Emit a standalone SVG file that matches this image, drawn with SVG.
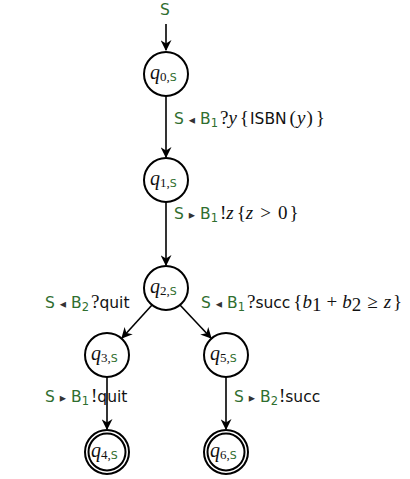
<svg xmlns="http://www.w3.org/2000/svg" width="410" height="479" viewBox="0 0 410 479">
<defs>
<marker id="ah" viewBox="0 0 10 10" refX="9" refY="5" markerWidth="11" markerHeight="11" markerUnits="userSpaceOnUse" orient="auto">
<path d="M0,0 L10,5 L0,10 L3,5 z" fill="#000"/>
</marker>
<style>
.st{fill:#fff;stroke:#000;stroke-width:2}
.e{fill:none;stroke:#000;stroke-width:1.6;marker-end:url(#ah)}
text{font-family:"DejaVu Sans","Liberation Sans",sans-serif;font-size:15.5px;fill:#111}
.g{fill:#2f6e2f}
.m{font-family:"Liberation Serif","DejaVu Serif",serif;font-style:italic;font-size:19px}
.r{font-family:"Liberation Serif","DejaVu Serif",serif;font-size:19px}
.t{font-size:12.5px;fill:#333}
.q{font-family:"Liberation Serif","DejaVu Serif",serif;font-style:italic;font-size:20px}
.qs{font-family:"Liberation Serif","DejaVu Serif",serif;font-size:13px}
.qg{font-size:11px;fill:#2f6e2f}
.sb{font-size:11.5px}
</style>
</defs>
<g id="edges">
<line class="e" x1="166" y1="24" x2="166" y2="50"/>
<line class="e" x1="166" y1="96" x2="166" y2="157"/>
<line class="e" x1="166" y1="202" x2="166" y2="265"/>
<line class="e" x1="152" y1="305" x2="122" y2="338"/>
<line class="e" x1="180" y1="305" x2="211" y2="338"/>
<line class="e" x1="107" y1="377" x2="107" y2="429"/>
<line class="e" x1="226" y1="377" x2="226" y2="429"/>
</g>
<g id="labels">
<text x="160" y="15" class="g">S</text>
<text x="174" y="124"><tspan class="g">S</tspan> <tspan class="t">◂</tspan> <tspan class="g">B</tspan><tspan class="g sb" dy="3">1</tspan><tspan class="r" dy="-3" dx="2">?</tspan><tspan class="m">y</tspan><tspan class="r" dx="3">{</tspan><tspan dx="1">ISBN</tspan><tspan class="r" dx="3">(</tspan><tspan class="m" dx="1">y</tspan><tspan class="r" dx="1">)</tspan><tspan class="r" dx="3">}</tspan></text>
<text x="174" y="219"><tspan class="g">S</tspan> <tspan class="t">▸</tspan> <tspan class="g">B</tspan><tspan class="g sb" dy="3">1</tspan><tspan class="r" dy="-3" dx="2">!</tspan><tspan class="m">z</tspan><tspan class="r" dx="3">{</tspan><tspan class="m">z</tspan><tspan class="r" dx="7">&gt;</tspan><tspan class="r" dx="7">0</tspan><tspan class="r" dx="2">}</tspan></text>
<text x="45" y="308"><tspan class="g">S</tspan> <tspan class="t">◂</tspan> <tspan class="g">B</tspan><tspan class="g sb" dy="3">2</tspan><tspan class="r" dy="-3" dx="2">?</tspan>quit</text>
<text x="201" y="308"><tspan class="g">S</tspan> <tspan class="t">◂</tspan> <tspan class="g">B</tspan><tspan class="g sb" dy="3">1</tspan><tspan class="r" dy="-3" dx="2">?</tspan>succ<tspan class="r" dx="3">{</tspan><tspan class="m">b</tspan><tspan class="r" font-size="12" dy="3">1</tspan><tspan class="r" dy="-3" dx="5">+</tspan><tspan class="m" dx="5">b</tspan><tspan class="r" font-size="12" dy="3">2</tspan><tspan class="r" dy="-3" dx="6">≥</tspan><tspan class="m" dx="6">z</tspan><tspan class="r" dx="2">}</tspan></text>
<text x="45" y="402"><tspan class="g">S</tspan> <tspan class="t">▸</tspan> <tspan class="g">B</tspan><tspan class="g sb" dy="3">1</tspan><tspan class="r" dy="-3" dx="2">!</tspan>quit</text>
<text x="234" y="402"><tspan class="g">S</tspan> <tspan class="t">▸</tspan> <tspan class="g">B</tspan><tspan class="g sb" dy="3">2</tspan><tspan class="r" dy="-3" dx="1">!</tspan>succ</text>
</g>
<g id="q0"><circle class="st" cx="166" cy="74" r="22"/><text x="150" y="79"><tspan class="q">q</tspan><tspan class="qs" dy="2">0,</tspan><tspan class="qg">S</tspan></text></g>
<g id="q1"><circle class="st" cx="166" cy="180" r="22"/><text x="150" y="185"><tspan class="q">q</tspan><tspan class="qs" dy="2">1,</tspan><tspan class="qg">S</tspan></text></g>
<g id="q2"><circle class="st" cx="166" cy="288" r="22"/><text x="150" y="293"><tspan class="q">q</tspan><tspan class="qs" dy="2">2,</tspan><tspan class="qg">S</tspan></text></g>
<g id="q3"><circle class="st" cx="107" cy="355" r="22"/><text x="91" y="360"><tspan class="q">q</tspan><tspan class="qs" dy="2">3,</tspan><tspan class="qg">S</tspan></text></g>
<g id="q5"><circle class="st" cx="226" cy="355" r="22"/><text x="210" y="360"><tspan class="q">q</tspan><tspan class="qs" dy="2">5,</tspan><tspan class="qg">S</tspan></text></g>
<g id="q4"><circle class="st" cx="107" cy="452" r="22"/><circle class="st" cx="107" cy="452" r="18.5"/><text x="91" y="457"><tspan class="q">q</tspan><tspan class="qs" dy="2">4,</tspan><tspan class="qg">S</tspan></text></g>
<g id="q6"><circle class="st" cx="226" cy="452" r="22"/><circle class="st" cx="226" cy="452" r="18.5"/><text x="210" y="457"><tspan class="q">q</tspan><tspan class="qs" dy="2">6,</tspan><tspan class="qg">S</tspan></text></g>
</svg>
